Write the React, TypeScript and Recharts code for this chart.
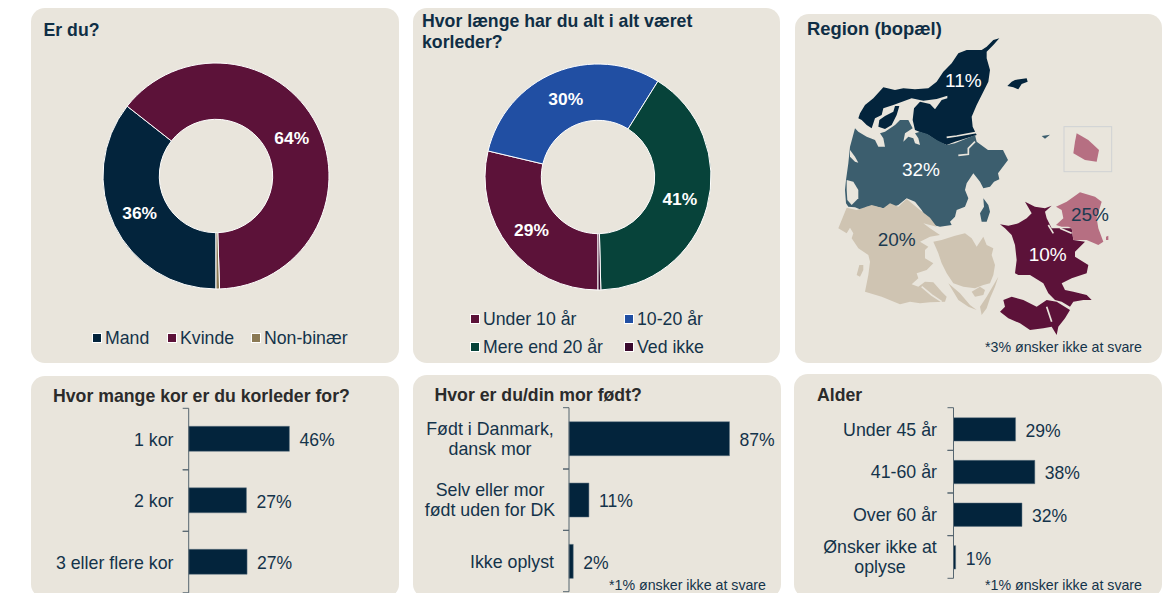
import { PieChart, Pie, Cell, BarChart, Bar, XAxis, YAxis, LabelList } from "recharts";

const FONT = '"Liberation Sans", Arial, sans-serif';
const PANEL = "#e9e5dc";
const NAVY = "#03243c";
const TEXT = "#14334a";
const TITLE_DARK = "#2b2b2b";

// Er du?
const genderNames = ["Mand", "Kvinde", "Non-binær"];
const genderValues = [35.6, 63.9, 0.5];
const genderColors = ["#03243c", "#5c1239", "#8b7a55"];

// Hvor længe
const tenureNames = ["Under 10 år", "10-20 år", "Mere end 20 år", "Ved ikke"];
const tenureValues = [28.7, 30.2, 40.7, 0.4];
const tenureColors = ["#5c1239", "#214fa3", "#07433a", "#3a0a2e"];

// Region
const regionLabels = ["11%", "32%", "20%", "25%", "10%"];

// Bar charts
const choirNames = ["1 kor", "2 kor", "3 eller flere kor"];
const choirValues = [46.4, 26.6, 26.9];
const birthNames = ["Født i Danmark,\ndansk mor", "Selv eller mor\nfødt uden for DK", "Ikke oplyst"];
const birthValues = [87, 10.8, 2.3];
const ageNames = ["Under 45 år", "41-60 år", "Over 60 år", "Ønsker ikke at\noplyse"];
const ageValues = [29, 38, 32, 1];

const panels = [
  { left: 31, top: 8, width: 368, height: 355 },
  { left: 413, top: 8, width: 367, height: 355 },
  { left: 795, top: 14, width: 367, height: 349 },
  { left: 31, top: 376, width: 368, height: 222 },
  { left: 413, top: 375, width: 368, height: 223 },
  { left: 794, top: 374, width: 368, height: 224 },
];

const RADIAN = Math.PI / 180;

function pieLabel(props: any) {
  const { cx, cy, midAngle, innerRadius, outerRadius, value } = props;
  if (value < 1) return null;
  const r = (innerRadius + outerRadius) / 2;
  const x = cx + r * Math.cos(-midAngle * RADIAN);
  const y = cy + r * Math.sin(-midAngle * RADIAN);
  return (
    <text x={x} y={y} fill="#ffffff" textAnchor="middle" dominantBaseline="central" fontSize={17.4} fontWeight={700} fontFamily={FONT}>
      {Math.round(value)}%
    </text>
  );
}

function Donut({ names, values, colors, cx, cy }: any) {
  const data = names.map((name: string, i: number) => ({ name, value: values[i] }));
  return (
    <div style={{ position: "absolute", left: cx - 120, top: cy - 120 }}>
      <PieChart width={240} height={240} margin={{ top: 0, right: 0, bottom: 0, left: 0 }}>
        <Pie
          data={data}
          dataKey="value"
          cx={120}
          cy={120}
          innerRadius={56.7}
          outerRadius={113}
          startAngle={-90}
          endAngle={-450}
          stroke="#ffffff"
          strokeWidth={1}
          label={pieLabel}
          labelLine={false}
          isAnimationActive={false}
        >
          {data.map((d: any, i: number) => (
            <Cell key={d.name} fill={colors[i]} />
          ))}
        </Pie>
      </PieChart>
    </div>
  );
}

function LegendItem({ name, color, squareX, textX, y }: any) {
  return (
    <>
      <div style={{ position: "absolute", left: squareX - 1, top: y - 5, width: 8, height: 8, background: color, border: "1px solid #ffffff" }} />
      <div style={{ position: "absolute", left: textX, top: y - 11, fontSize: 17.7, lineHeight: "22px", color: TEXT, whiteSpace: "nowrap" }}>{name}</div>
    </>
  );
}

function Title({ x, y, color, size = 17.7, children }: any) {
  return (
    <div style={{ position: "absolute", left: x, top: y, fontSize: size, lineHeight: "21px", fontWeight: 700, color, whiteSpace: "nowrap" }}>{children}</div>
  );
}

function Note({ right, y, children }: any) {
  return (
    <div style={{ position: "absolute", right: 1169 - right, top: y - 9, fontSize: 14.2, lineHeight: "18px", color: TEXT, whiteSpace: "nowrap" }}>{children}</div>
  );
}

function HBars({ names, values, left, top, axisX, plotTop, plotBottom, barSize, pxPerPct, labelRight, blockCenter }: any) {
  const data = names.map((name: string, i: number) => ({ name, value: values[i] }));
  const yAxisWidth = axisX - left;
  const marginTop = plotTop - top;
  const band = (plotBottom - plotTop) / names.length;
  const width = yAxisWidth + pxPerPct * 100 + 60;

  const tick = (p: any) => {
    const lines = String(p.payload.value).split("\n");
    const y = p.y;
    const endX = labelRight - left;
    return (
      <g>
        <line x1={yAxisWidth - 6} x2={yAxisWidth} y1={y - band / 2} y2={y - band / 2} stroke="#55656f" />
        <line x1={yAxisWidth - 6} x2={yAxisWidth} y1={y + band / 2} y2={y + band / 2} stroke="#55656f" />
        {lines.length === 1 ? (
          <text x={endX} y={y + 0.5} dy="0.35em" textAnchor="end" fontSize={17.8} fill={TEXT} fontFamily={FONT}>
            {lines[0]}
          </text>
        ) : (
          lines.map((line, i) => (
            <text key={line} x={blockCenter - left} y={y - 10 + i * 20} dy="0.35em" textAnchor="middle" fontSize={17.8} fill={TEXT} fontFamily={FONT}>
              {line}
            </text>
          ))
        )}
      </g>
    );
  };

  return (
    <div style={{ position: "absolute", left, top }}>
      <BarChart
        layout="vertical"
        width={width}
        height={marginTop + (plotBottom - plotTop) + 2}
        data={data}
        margin={{ top: marginTop, right: 60, bottom: 2, left: 0 }}
      >
        <XAxis type="number" domain={[0, 100]} hide />
        <YAxis
          type="category"
          dataKey="name"
          width={yAxisWidth}
          axisLine={{ stroke: "#55656f" }}
          tickLine={false}
          tick={tick}
          interval={0}
        />
        <Bar dataKey="value" fill={NAVY} stroke="#5f7382" strokeWidth={0.5} barSize={barSize} isAnimationActive={false}>
          <LabelList
            dataKey="value"
            position="right"
            offset={10}
            dy={1}
            fill={TEXT}
            fontSize={17.6}
            fontFamily={FONT}
            formatter={(v: any) => `${Math.round(v)}%`}
          />
        </Bar>
      </BarChart>
    </div>
  );
}

// Kortets omrids: hver landsdel er tegnet i sit eget udsnit, 3x skala
const northParts = [
  "M478,25 L460,30 440,50 425,60 380,60 355,70 335,100 310,125 290,155 265,175 225,178 190,175 165,180 130,172 100,205 75,225 60,250 55,265 65,270 80,285 95,295 105,265 125,255 130,235 160,225 215,205 250,212 290,207 322,197 322,205 305,210 285,238 270,222 240,215 222,235 218,270 225,300 245,308 265,315 295,335 320,345 345,335 410,315 398,290 395,260 410,225 430,185 445,155 450,120 440,85 440,65 460,45 Z",
  "M165,228 L178,228 170,255 155,285 135,297 115,290 118,270 135,258 160,245 Z",
];
const northWater = ["M320,322 L350,318 410,307"];

const midParts = [
  "M45,55 L30,110 25,160 18,210 15,240 18,280 25,290 45,292 65,300 80,290 110,290 130,295 160,290 175,285 200,265 225,275 245,300 260,325 280,345 300,350 335,345 330,335 345,320 350,300 375,290 385,265 375,240 380,220 400,190 420,215 430,235 450,230 462,215 478,208 474,190 504,150 489,120 444,120 410,95 405,75 345,100 320,105 290,90 262,72 240,65 225,70 235,85 240,105 225,100 220,85 205,80 190,95 195,70 218,55 205,30 180,30 165,45 135,65 120,70 130,85 135,110 115,110 105,90 80,80 55,65 Z",
  "M430,265 L445,285 450,305 440,335 425,335 420,310 432,290 Z",
];
const midHoles = [
  "M20,210 L40,215 55,240 55,265 35,285 22,270 20,240 Z",
  "M30,120 L45,140 55,158 45,155 30,140 Z",
];
const midWater = ["M405,95 L385,115 385,133 355,136"];

const southParts = [
  "M50,38 L25,100 50,115 60,98 70,115 65,130 85,160 115,180 120,200 115,240 105,290 155,305 210,328 240,320 270,325 300,322 345,320 350,305 335,290 310,262 285,260 265,275 245,268 265,250 260,235 290,225 310,205 285,190 285,165 295,155 270,140 300,125 330,120 300,100 280,85 320,95 300,68 270,45 230,12 205,35 180,25 160,40 125,30 110,35 80,45 Z",
  "M88,210 L100,210 100,225 90,245 80,240 Z",
  "M310,140 L335,135 375,122 405,115 425,130 440,155 460,125 470,150 490,160 485,180 495,210 490,240 480,265 460,270 435,280 400,275 370,265 350,235 335,205 325,175 Z",
  "M355,265 L390,295 420,330 440,345 415,335 385,315 Z",
  "M425,290 L450,275 465,285 460,300 435,305 Z",
  "M505,245 L495,275 480,310 470,340 455,360 450,335 470,305 Z",
];
const southWater = ["M275,275 L305,300 335,320"];

const zealandParts = [
  "M30,118 L55,122 85,115 110,100 125,85 105,50 135,65 165,70 185,62 165,80 170,100 185,130 245,130 250,165 285,170 255,200 255,215 295,240 290,265 245,280 215,295 225,315 250,320 290,330 305,345 280,345 250,350 240,365 215,350 195,345 175,325 160,295 120,270 85,270 75,265 80,225 75,180 65,150 45,130 Z",
  "M40,345 L65,335 100,345 140,365 170,345 200,350 240,375 225,400 205,425 200,450 185,425 160,430 120,435 90,415 55,400 30,380 45,365 Z",
];
const zealandWater = ["M170,365 L185,410", "M175,120 L190,145", "M210,130 L245,145"];
const capitalParts = [
  "M198,65 L230,50 270,22 315,35 335,50 320,100 325,130 340,170 325,180 290,165 250,165 245,130 235,125 215,125 198,120 220,100 215,75 Z",
  "M348,155 L355,152 355,165 348,165 Z",
];

const laeso = "M637,228 L650,215 660,210 695,205 698,215 680,222 670,238 655,232 Z";
const anholt = "M740,378 L765,374 750,386 Z";
const bornholm = "M845,370 L880,390 912,420 905,455 870,450 835,430 840,395 Z";

const mapLabelPos = [
  [505, 210, "#ffffff"],
  [378, 478, "#ffffff"],
  [305, 688, "#1b3a50"],
  [885, 613, "#1b3a50"],
  [758, 733, "#ffffff"],
];

function RegionMap() {
  const water = (list: string[]) =>
    list.map((d) => <path key={d} d={d} fill="none" stroke={PANEL} strokeWidth={5} />);
  return (
    <svg width={370} height={355} viewBox="0 0 1110 1065" style={{ position: "absolute", left: 795, top: 10 }}>
      <rect x={807} y={350} width={143} height={135} fill="none" stroke="#cfd2d4" strokeWidth={3} />
      <path d={bornholm} fill="#b66f82" />
      <path d={laeso} fill="#03243c" />
      <path d={anholt} fill="#3c5e6e" />
      <g transform="translate(135,60)">
        {northParts.map((d) => <path key={d} d={d} fill="#03243c" />)}
        {water(northWater)}
      </g>
      <g transform="translate(135,300)">
        {midParts.map((d) => <path key={d} d={d} fill="#3c5e6e" />)}
        {midHoles.map((d) => <path key={d} d={d} fill={PANEL} />)}
        {water(midWater)}
      </g>
      <g transform="translate(105,555)">
        {southParts.map((d) => <path key={d} d={d} fill="#cfc4b2" />)}
        {water(southWater)}
      </g>
      <g transform="translate(585,525)">
        {zealandParts.map((d) => <path key={d} d={d} fill="#5c1239" />)}
        {capitalParts.map((d) => <path key={d} d={d} fill="#b66f82" />)}
        {water(zealandWater)}
      </g>
      {regionLabels.map((label, i) => (
        <text
          key={label}
          x={mapLabelPos[i][0] as number}
          y={mapLabelPos[i][1] as number}
          fill={mapLabelPos[i][2] as string}
          textAnchor="middle"
          dominantBaseline="central"
          fontSize={57}
          fontFamily={FONT}
        >
          {label}
        </text>
      ))}
    </svg>
  );
}

export default function App() {
  return (
    <div style={{ position: "fixed", left: 0, top: 0, width: 1169, height: 593, overflow: "hidden", background: "#ffffff", fontFamily: FONT }}>
      {panels.map((p, i) => (
        <div key={i} style={{ position: "absolute", ...p, background: PANEL, borderRadius: 14 }} />
      ))}

      <Title x={43.5} y={20} color="#0f2e45">Er du?</Title>
      <Donut names={genderNames} values={genderValues} colors={genderColors} cx={215.5} cy={175.5} />
      <LegendItem name={genderNames[0]} color={genderColors[0]} squareX={93} textX={105} y={338} />
      <LegendItem name={genderNames[1]} color={genderColors[1]} squareX={168} textX={180} y={338} />
      <LegendItem name={genderNames[2]} color={genderColors[2]} squareX={252} textX={264} y={338} />

      <Title x={422} y={11} color="#0f2e45">Hvor længe har du alt i alt været</Title>
      <Title x={422} y={32} color="#0f2e45">korleder?</Title>
      <Donut names={tenureNames} values={tenureValues} colors={tenureColors} cx={598.3} cy={177.4} />
      <LegendItem name={tenureNames[0]} color={tenureColors[0]} squareX={471} textX={483} y={319} />
      <LegendItem name={tenureNames[1]} color={tenureColors[1]} squareX={625} textX={637} y={319} />
      <LegendItem name={tenureNames[2]} color={tenureColors[2]} squareX={471} textX={483} y={347} />
      <LegendItem name={tenureNames[3]} color={tenureColors[3]} squareX={625} textX={637} y={347} />

      <Title x={807} y={18} size={18.4} color="#0f2e45">Region (bopæl)</Title>
      <RegionMap />
      <Note right={1142} y={347}>*3% ønsker ikke at svare</Note>

      <Title x={53} y={386} color={TITLE_DARK}>Hvor mange kor er du korleder for?</Title>
      <HBars names={choirNames} values={choirValues} left={31} top={400} axisX={188.7} plotTop={408.3} plotBottom={592.8} barSize={25} pxPerPct={2.17} labelRight={173.5} />

      <Title x={434.5} y={385} color={TITLE_DARK}>Hvor er du/din mor født?</Title>
      <HBars names={birthNames} values={birthValues} left={413} top={400} axisX={569} plotTop={407.7} plotBottom={591.7} barSize={34} pxPerPct={1.845} labelRight={554} blockCenter={490} />
      <Note right={766} y={585}>*1% ønsker ikke at svare</Note>

      <Title x={817} y={385} color={TITLE_DARK}>Alder</Title>
      <HBars names={ageNames} values={ageValues} left={794} top={400} axisX={953.5} plotTop={407.7} plotBottom={578.3} barSize={23.4} pxPerPct={2.14} labelRight={937} blockCenter={880} />
      <Note right={1142} y={585}>*1% ønsker ikke at svare</Note>
    </div>
  );
}
